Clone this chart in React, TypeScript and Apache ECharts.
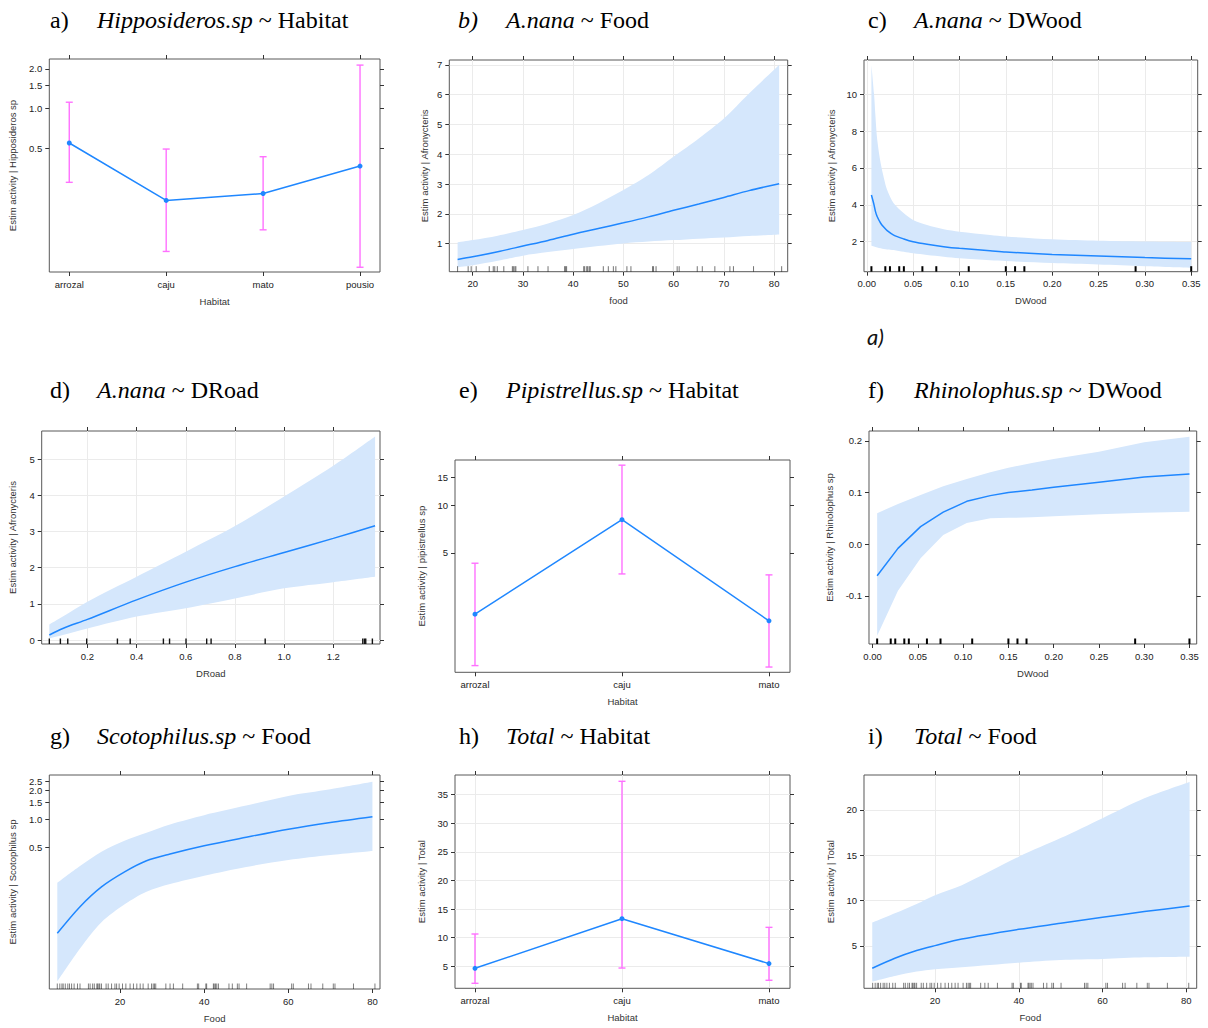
import React, { useEffect, useRef } from "react";
import * as echarts from "echarts";

// ---------- categories ----------
const HAB4 = ["arrozal", "caju", "mato", "pousio"];
const HAB3 = ["arrozal", "caju", "mato"];

// ---------- a) Hipposideros.sp ~ Habitat (log scale) ----------
const aFit = [0.55, 0.202, 0.228, 0.368];
const aUpper = [1.12, 0.495, 0.433, 2.14];
const aLower = [0.277, 0.083, 0.121, 0.063];
const aYTicks = [0.5, 1.0, 1.5, 2.0];

// ---------- b) A.nana ~ Food ----------
const bX = [17, 20, 25, 30, 35, 40, 45, 50, 55, 60, 65, 70, 75, 81];
const bFit = [0.47, 0.56, 0.73, 0.92, 1.11, 1.32, 1.51, 1.7, 1.9, 2.12, 2.33, 2.55, 2.78, 3.01];
const bUpper = [1.04, 1.12, 1.27, 1.46, 1.68, 1.96, 2.35, 2.8, 3.3, 3.92, 4.53, 5.2, 6.04, 6.99];
const bLower = [0.21, 0.28, 0.43, 0.6, 0.72, 0.82, 0.92, 1.01, 1.07, 1.12, 1.17, 1.21, 1.26, 1.31];
const bRug = [17.0, 19.1, 19.7, 20.7, 23.3, 24.1, 24.4, 24.9, 26.2, 27.9, 28.1, 28.4, 28.6, 31.0, 33.0, 35.0, 38.3, 38.5, 38.7, 42.1, 42.3, 42.7, 42.9, 43.2, 43.4, 46.0, 47.0, 48.0, 48.5, 50.7, 51.5, 55.8, 56.0, 56.5, 60.7, 61.1, 64.7, 65.7, 68.2, 71.2, 71.9, 75.9, 81.5];
const bXTicks = [20, 30, 40, 50, 60, 70, 80];
const bYTicks = [1, 2, 3, 4, 5, 6, 7];

// ---------- c) A.nana ~ DWood ----------
const cX = [0.005, 0.0078, 0.0094, 0.0113, 0.015, 0.0185, 0.022, 0.029, 0.04, 0.05, 0.065, 0.083, 0.1, 0.133, 0.15, 0.2, 0.25, 0.3, 0.35];
const cFit = [4.53, 4.0, 3.63, 3.35, 3.0, 2.78, 2.6, 2.36, 2.15, 2.0, 1.86, 1.73, 1.64, 1.51, 1.44, 1.31, 1.22, 1.14, 1.07];
const cUpper = [11.58, 10.04, 8.78, 7.51, 6.25, 5.44, 4.8, 4.08, 3.54, 3.18, 2.9, 2.67, 2.54, 2.36, 2.28, 2.13, 2.05, 2.01, 1.98];
const cLower = [1.78, 1.74, 1.71, 1.68, 1.64, 1.6, 1.58, 1.55, 1.45, 1.37, 1.28, 1.19, 1.1, 0.99, 0.95, 0.84, 0.76, 0.67, 0.58];
const dwoodRug = [0.005, 0.02, 0.025, 0.035, 0.04, 0.06, 0.075, 0.11, 0.15, 0.16, 0.17, 0.29, 0.35];
const dwoodTicks = [0, 0.05, 0.1, 0.15, 0.2, 0.25, 0.3, 0.35];
const cYTicks = [2, 4, 6, 8, 10];

// ---------- d) A.nana ~ DRoad ----------
const dX = [0.045, 0.1, 0.2, 0.4, 0.6, 0.8, 1.0, 1.2, 1.37];
const dFit = [0.14, 0.32, 0.57, 1.11, 1.6, 2.03, 2.42, 2.81, 3.16];
const dUpper = [0.43, 0.65, 1.06, 1.75, 2.44, 3.15, 3.97, 4.82, 5.63];
const dLower = [0.05, 0.14, 0.32, 0.65, 0.88, 1.15, 1.43, 1.6, 1.75];
const droadRug = [0.045, 0.09, 0.12, 0.197, 0.322, 0.374, 0.509, 0.534, 0.601, 0.685, 0.703, 0.923, 1.32, 1.327, 1.332, 1.359];
const dXTicks = [0.2, 0.4, 0.6, 0.8, 1.0, 1.2, 1.4];
const dYTicks = [0, 1, 2, 3, 4, 5];

// ---------- e) Pipistrellus.sp ~ Habitat (log scale) ----------
const eFit = [2.05, 8.1, 1.86];
const eUpper = [4.3, 17.9, 3.63];
const eLower = [0.97, 3.68, 0.95];
const eYTicks = [5, 10, 15];

// ---------- f) Rhinolophus.sp ~ DWood ----------
const fX = [0.005, 0.028, 0.053, 0.078, 0.104, 0.13, 0.15, 0.176, 0.2, 0.25, 0.3, 0.35];
const fFit = [-0.061, -0.008, 0.034, 0.062, 0.083, 0.094, 0.1, 0.105, 0.11, 0.12, 0.13, 0.136];
const fUpper = [0.06, 0.078, 0.095, 0.112, 0.126, 0.139, 0.148, 0.157, 0.165, 0.179, 0.197, 0.208];
const fLower = [-0.177, -0.09, -0.027, 0.018, 0.041, 0.05, 0.051, 0.052, 0.054, 0.058, 0.061, 0.063];
const fYTicks = [-0.1, 0.0, 0.1, 0.2];

// ---------- g) Scotophilus.sp ~ Food (log scale) ----------
const gX = [5.1, 10.5, 15.6, 21.2, 26.3, 31.9, 40, 50, 60, 70, 80];
const gFit = [0.061, 0.117, 0.19, 0.276, 0.36, 0.425, 0.52, 0.64, 0.78, 0.92, 1.06];
const gUpper = [0.21, 0.317, 0.45, 0.59, 0.716, 0.877, 1.1, 1.39, 1.76, 2.07, 2.49];
const gLower = [0.0187, 0.042, 0.08, 0.125, 0.169, 0.204, 0.25, 0.31, 0.366, 0.414, 0.457];
const foodRug = [5.1, 5.7, 6.2, 6.5, 7.0, 7.6, 8.0, 8.5, 9.1, 9.9, 10.5, 12.5, 12.9, 13.5, 13.9, 14.5, 14.7, 15.0, 15.2, 15.6, 16.7, 17.2, 18.0, 18.8, 19.2, 19.8, 20.6, 21.4, 22.4, 23.2, 24.0, 24.8, 25.5, 26.7, 27.5, 27.9, 28.2, 28.5, 30.9, 31.9, 32.7, 34.9, 38.4, 38.7, 40.4, 40.6, 42.2, 42.4, 42.7, 43.0, 43.4, 45.9, 46.7, 47.9, 48.3, 50.1, 55.7, 56.1, 56.5, 60.8, 61.2, 64.8, 65.4, 68.2, 70.7, 71.1, 75.5, 80.6];
const gYTicks = [0.5, 1.0, 1.5, 2.0, 2.5];
const foodTicks = [20, 40, 60, 80];

// ---------- h) Total ~ Habitat ----------
const hFit = [4.65, 13.31, 5.47];
const hUpper = [10.64, 37.3, 11.8];
const hLower = [2.03, 4.7, 2.56];
const hYTicks = [5, 10, 15, 20, 25, 30, 35];

// ---------- i) Total ~ Food ----------
const iX = [5.0, 10.4, 15.6, 20, 26.4, 40, 50, 60, 70, 80.8];
const iFit = [2.54, 3.64, 4.49, 5.04, 5.77, 6.84, 7.5, 8.16, 8.79, 9.41];
const iUpper = [7.57, 8.6, 9.63, 10.6, 11.7, 14.85, 16.9, 19.1, 21.3, 23.1];
const iLower = [1.07, 1.69, 2.17, 2.43, 2.65, 3.16, 3.46, 3.57, 3.75, 3.82];
const iYTicks = [5, 10, 15, 20];

// ---------- styles ----------
const LINE = "#1f87ff";
const BAND = "#d5e7fc";
const ERR = "#ff70ff";
const BOX = "#585858";
const GRIDC = "#ebebeb";
const SANS = "Liberation Sans";
const SERIF = "Liberation Serif";

type Panel = {
  rect: [number, number, number, number];
  xr: [number, number];
  yr: [number, number];
  xTicks: number[];
  yTicks: number[];
  xFmt: (v: number) => string;
  yFmt: (v: number) => string;
  log?: boolean;
  gridLines?: boolean;
  xName: string;
  yName: string;
  yGap: number;
  cats?: string[];
  xs?: number[];
  fit: number[];
  up: number[];
  lo: number[];
  rug?: number[];
  rugColor?: string;
  rugWidth?: number;
  smooth?: number;
  yLabelGuard?: number; // an extra, blank label near the top so that the real top label is not treated as the "max" label
};

const catFmt = (cats: string[]) => (v: number) => cats[Math.round(v)] ?? "";
const f1 = (v: number) => v.toFixed(1);
const f2 = (v: number) => v.toFixed(2);
const f0 = (v: number) => String(Math.round(v));
const e1 = (v: number) => Math.exp(v).toFixed(1);
const e0 = (v: number) => String(Math.round(Math.exp(v)));

const PANELS: Panel[] = [
  {
    rect: [49.3, 59, 330.7, 213], xr: [-0.206, 3.206], yr: [0.058, 2.38], log: true,
    xTicks: [0, 1, 2, 3], yTicks: aYTicks, xFmt: catFmt(HAB4), yFmt: e1,
    xName: "Habitat", yName: "Estim activity | Hipposideros sp", yGap: 32,
    cats: HAB4, fit: aFit, up: aUpper, lo: aLower,
  },
  {
    rect: [449.3, 60, 338.4, 211.7], xr: [15.35, 82.7], yr: [0.061, 7.16], gridLines: true,
    xTicks: bXTicks, yTicks: bYTicks, xFmt: f0, yFmt: f0,
    xName: "food", yName: "Estim activity | Afronycteris", yGap: 20,
    xs: bX, fit: bFit, up: bUpper, lo: bLower, rug: bRug, rugColor: "rgba(0,0,0,0.55)", rugWidth: 1,
  },
  {
    rect: [864, 60, 333.7, 211.7], xr: [-0.003, 0.357], yr: [0.374, 11.85], gridLines: true,
    xTicks: dwoodTicks, yTicks: cYTicks, xFmt: f2, yFmt: f0,
    xName: "DWood", yName: "Estim activity | Afronycteris", yGap: 28,
    xs: cX, fit: cFit, up: cUpper, lo: cLower, rug: dwoodRug, rugColor: "#000", rugWidth: 2,
  },
  {
    rect: [41.7, 431, 338.3, 213], xr: [0.014, 1.39], yr: [-0.11, 5.78], gridLines: true,
    xTicks: dXTicks, yTicks: dYTicks, xFmt: f1, yFmt: f0,
    xName: "DRoad", yName: "Estim activity | Afronycteris", yGap: 24,
    xs: dX, fit: dFit, up: dUpper, lo: dLower, rug: droadRug, rugColor: "#111", rugWidth: 1.4,
  },
  {
    rect: [455, 460, 335, 212.3], xr: [-0.136, 2.143], yr: [0.88, 19.3], log: true,
    xTicks: [0, 1, 2], yTicks: eYTicks, xFmt: catFmt(HAB3), yFmt: e0,
    xName: "Habitat", yName: "Estim activity | pipistrellus sp", yGap: 29,
    cats: HAB3, fit: eFit, up: eUpper, lo: eLower,
  },
  {
    rect: [869, 431, 327.7, 213], xr: [-0.004, 0.358], yr: [-0.193, 0.219],
    xTicks: dwoodTicks, yTicks: fYTicks, xFmt: f2, yFmt: f1,
    xName: "DWood", yName: "Estim activity | Rhinolophus sp", yGap: 35,
    xs: fX, fit: fFit, up: fUpper, lo: fLower, rug: dwoodRug, rugColor: "#000", rugWidth: 2, smooth: 0,
  },
  {
    rect: [49.3, 775, 330.7, 214], xr: [3.2, 81.8], yr: [0.0156, 2.94], log: true,
    xTicks: foodTicks, yTicks: gYTicks, xFmt: f0, yFmt: e1,
    xName: "Food", yName: "Estim activity | Scotophilus sp", yGap: 32,
    xs: gX, fit: gFit, up: gUpper, lo: gLower, rug: foodRug, rugColor: "rgba(0,0,0,0.5)", rugWidth: 1,
    yLabelGuard: 2.93,
  },
  {
    rect: [455, 775, 335, 213.3], xr: [-0.136, 2.143], yr: [1.16, 38.4], gridLines: true,
    xTicks: [0, 1, 2], yTicks: hYTicks, xFmt: catFmt(HAB3), yFmt: f0,
    xName: "Habitat", yName: "Estim activity | Total", yGap: 29,
    cats: HAB3, fit: hFit, up: hUpper, lo: hLower,
  },
  {
    rect: [864, 775, 332.7, 213.3], xr: [3.03, 82.5], yr: [0.33, 23.86], gridLines: true,
    xTicks: foodTicks, yTicks: iYTicks, xFmt: f0, yFmt: f0,
    xName: "Food", yName: "Estim activity | Total", yGap: 29,
    xs: iX, fit: iFit, up: iUpper, lo: iLower, rug: foodRug, rugColor: "rgba(0,0,0,0.5)", rugWidth: 1,
  },
];

// titles: [labelX, italicX, centerY, label, labelItalic, italicPart, rest]
const TITLES: [number, number, number, string, boolean, string, string][] = [
  [50, 97, 20, "a)", false, "Hipposideros.sp", " ~ Habitat"],
  [458, 506, 20, "b)", true, "A.nana", " ~ Food"],
  [868, 914, 20, "c)", false, "A.nana", " ~ DWood"],
  [50, 97, 390, "d)", false, "A.nana", " ~ DRoad"],
  [459, 506, 390, "e)", false, "Pipistrellus.sp", " ~ Habitat"],
  [868, 914, 390, "f)", false, "Rhinolophus.sp", " ~ DWood"],
  [50, 97, 736, "g)", false, "Scotophilus.sp", " ~ Food"],
  [459, 506, 736, "h)", false, "Total", " ~ Habitat"],
  [868, 914, 736, "i)", false, "Total", " ~ Food"],
];

function buildOption() {
  const grid: any[] = [];
  const xAxis: any[] = [];
  const yAxis: any[] = [];
  const series: any[] = [];
  const graphic: any[] = [];

  const tickStyle = { color: "#333", width: 1 };
  const labelStyle = { fontFamily: SANS, fontSize: 9.5, color: "#222", hideOverlap: false };

  PANELS.forEach((p, k) => {
    const T = p.log ? (v: number) => Math.log(v) : (v: number) => v;
    const ymin = T(p.yr[0]);
    const ymax = T(p.yr[1]);
    const yT = p.yTicks.map(T);
    const guard = p.yLabelGuard != null ? T(p.yLabelGuard) : null;
    const yLabelVals = guard != null ? [...yT, guard] : yT;
    const yFmt = (v: number) => (guard != null && Math.abs(v - guard) < 1e-9 ? "" : p.yFmt(v));
    grid.push({
      left: p.rect[0], top: p.rect[1], width: p.rect[2], height: p.rect[3],
      show: true, borderColor: BOX, borderWidth: 1, backgroundColor: "transparent",
      containLabel: false, outerBoundsMode: "none",
    });
    const baseX = {
      type: "value", gridIndex: k, min: p.xr[0], max: p.xr[1], scale: true,
      axisLine: { show: false, onZero: false },
    };
    xAxis.push({
      ...baseX, position: "bottom",
      axisTick: { show: true, inside: false, length: 4, lineStyle: tickStyle, customValues: p.xTicks },
      axisLabel: { ...labelStyle, margin: 7, customValues: p.xTicks, formatter: p.xFmt, showMinLabel: true, showMaxLabel: true },
      splitLine: { show: !!p.gridLines, lineStyle: { color: GRIDC, width: 1 } },
      name: p.xName, nameLocation: "middle", nameGap: 24, nameMoveOverlap: false,
      nameTextStyle: { fontFamily: SANS, fontSize: 9.5, color: "#333" },
    });
    xAxis.push({
      ...baseX, position: "top",
      axisTick: { show: true, inside: false, length: 4, lineStyle: tickStyle, customValues: p.xTicks },
      axisLabel: { show: false, customValues: p.xTicks },
      splitLine: { show: false },
    });
    const baseY = {
      type: "value", gridIndex: k, min: ymin, max: ymax, scale: true,
      axisLine: { show: false, onZero: false },
    };
    yAxis.push({
      ...baseY, position: "left",
      axisTick: { show: true, inside: false, length: 4, lineStyle: tickStyle, customValues: yT },
      axisLabel: {
        ...labelStyle, margin: 7, customValues: yLabelVals, formatter: yFmt,
        showMinLabel: true, showMaxLabel: guard != null ? null : true,
      },
      splitLine: { show: !!p.gridLines, lineStyle: { color: GRIDC, width: 1 } },
      name: p.yName, nameLocation: "middle", nameGap: p.yGap, nameMoveOverlap: false,
      nameTextStyle: { fontFamily: SANS, fontSize: 9.5, color: "#333" },
    });
    yAxis.push({
      ...baseY, position: "right",
      axisTick: { show: true, inside: false, length: 4, lineStyle: tickStyle, customValues: yT },
      axisLabel: { show: false, customValues: yT },
      splitLine: { show: false },
    });

    const xi = 2 * k;
    const yi = 2 * k;

    if (p.cats) {
      const cats = p.cats;
      series.push({
        type: "custom", xAxisIndex: xi, yAxisIndex: yi, silent: true, z: 2,
        encode: { x: 0, y: [1, 2] },
        data: cats.map((_, i) => [i, T(p.lo[i]), T(p.up[i])]),
        renderItem: (params: any, api: any) => {
          const x = api.value(0);
          const a = api.coord([x, api.value(1)]);
          const b = api.coord([x, api.value(2)]);
          const w = 3.5;
          const st = { stroke: ERR, lineWidth: 1.4 };
          return {
            type: "group",
            children: [
              { type: "line", shape: { x1: a[0], y1: a[1], x2: b[0], y2: b[1] }, style: st },
              { type: "line", shape: { x1: a[0] - w, y1: a[1], x2: a[0] + w, y2: a[1] }, style: st },
              { type: "line", shape: { x1: b[0] - w, y1: b[1], x2: b[0] + w, y2: b[1] }, style: st },
            ],
          };
        },
      });
      series.push({
        type: "line", xAxisIndex: xi, yAxisIndex: yi, z: 3, silent: true,
        data: cats.map((_, i) => [i, T(p.fit[i])]),
        symbol: "circle", symbolSize: 5, showSymbol: true,
        itemStyle: { color: LINE },
        lineStyle: { color: LINE, width: 1.5 },
      });
    } else {
      const xs = p.xs as number[];
      const sm = p.smooth ?? 0.3;
      const stackId = "band" + k;
      // y value first so that the stacked dimension is y
      series.push({
        type: "line", xAxisIndex: xi, yAxisIndex: yi, z: 1, silent: true,
        stack: stackId, stackStrategy: "all",
        encode: { x: 1, y: 0 },
        data: xs.map((x, i) => [T(p.lo[i]), x]),
        symbol: "none", smooth: sm,
        lineStyle: { opacity: 0, width: 0 },
      });
      series.push({
        type: "line", xAxisIndex: xi, yAxisIndex: yi, z: 1, silent: true,
        stack: stackId, stackStrategy: "all",
        encode: { x: 1, y: 0 },
        data: xs.map((x, i) => [T(p.up[i]) - T(p.lo[i]), x]),
        symbol: "none", smooth: sm,
        lineStyle: { opacity: 0, width: 0 },
        areaStyle: { color: BAND, opacity: 1 },
      });
      series.push({
        type: "line", xAxisIndex: xi, yAxisIndex: yi, z: 3, silent: true,
        data: xs.map((x, i) => [x, T(p.fit[i])]),
        symbol: "none", smooth: sm,
        lineStyle: { color: LINE, width: 1.5 },
      });
      if (p.rug) {
        const rc = p.rugColor;
        const rw = p.rugWidth;
        series.push({
          type: "custom", xAxisIndex: xi, yAxisIndex: yi, silent: true, z: 4,
          data: p.rug.map((v) => [v, ymin]),
          renderItem: (params: any, api: any) => {
            const c = api.coord([api.value(0), api.value(1)]);
            return {
              type: "line",
              shape: { x1: c[0], y1: c[1], x2: c[0], y2: c[1] - 5.5 },
              style: { stroke: rc, lineWidth: rw },
            };
          },
        });
      }
    }
  });

  TITLES.forEach(([lx, ix, cy, lab, labIt, it, rest]) => {
    graphic.push({
      type: "text", x: lx, y: cy,
      style: {
        text: lab, fill: "#000", verticalAlign: "middle", align: "left",
        font: `${labIt ? "italic " : ""}24px "${SERIF}"`,
      },
    });
    graphic.push({
      type: "text", x: ix, y: cy,
      style: {
        text: `{i|${it}}${rest}`, fill: "#000", verticalAlign: "middle", align: "left",
        font: `24px "${SERIF}"`,
        rich: { i: { fontStyle: "italic", fontFamily: SERIF, fontSize: 24, fill: "#000" } },
      },
    });
  });
  graphic.push({
    type: "text", x: 867, y: 336,
    style: { text: "a)", fill: "#111", verticalAlign: "middle", align: "left", font: 'italic 22px "Lato"' },
  });

  return { animation: false, backgroundColor: "#fff", grid, xAxis, yAxis, series, graphic };
}

export default function App() {
  const ref = useRef<HTMLDivElement>(null);
  useEffect(() => {
    if (!ref.current) return;
    const chart = echarts.init(ref.current, null, { renderer: "svg" });
    chart.setOption(buildOption() as any);
    return () => chart.dispose();
  }, []);
  return (
    <div
      ref={ref}
      style={{ position: "absolute", left: 0, top: 0, width: 1208, height: 1028, background: "#fff" }}
    />
  );
}
